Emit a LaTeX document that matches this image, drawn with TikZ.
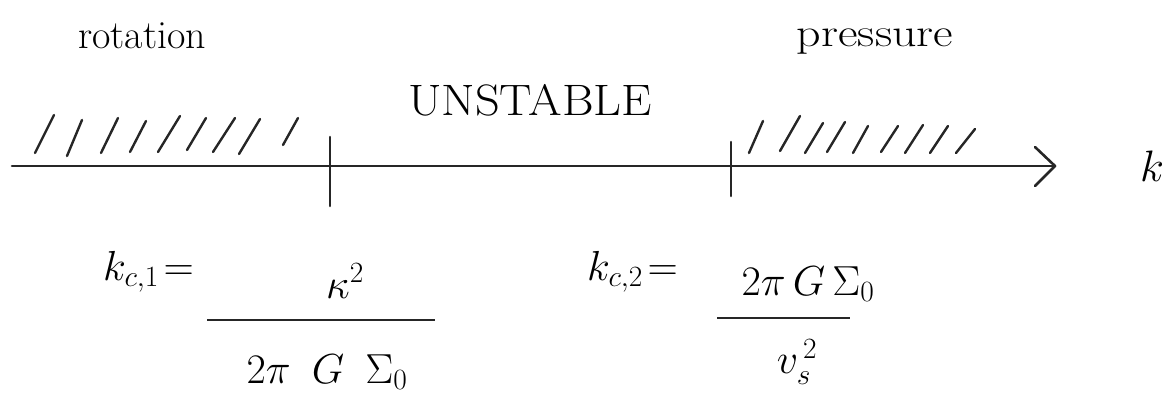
\RequirePackage{fix-cm}
\documentclass[tikz,border=0pt]{standalone}
\usepackage{amsmath}
\begin{document}
\begin{tikzpicture}[x=1pt,y=-1pt,
  ink/.style={line width=2.6pt,line cap=round,line join=round,black!85},
  hatch/.style={line width=2.4pt,line cap=round,black!85},
  lbl/.style={inner sep=0pt,font=\fontsize{40}{44}\selectfont},
  mth/.style={inner sep=0pt,font=\fontsize{42}{46}\selectfont}]
\useasboundingbox (0,0) rectangle (1164,397);
% axis
\coordinate (a0) at (12,166);
\coordinate (a1) at (1055,166);
\draw[ink] (a0) -- (a1);
\draw[ink] (1035,147) -- (a1) -- (1035,186);
% ticks
\coordinate (t1a) at (330,137); \coordinate (t1b) at (330,206);
\coordinate (t2a) at (731,142); \coordinate (t2b) at (731,196);
\draw[ink] (t1a) -- (t1b);
\draw[ink] (t2a) -- (t2b);
% left hatches
\foreach \xa/\ya/\xb/\yb in {35/153/54/115, 67/156/82/120, 101/153/118/118, 130/152/146/121, 158/152/180/116, 187/150/206/118, 213/152/235/118, 239/154/260/119, 283/145/298/118}
  \draw[hatch] (\xa,\ya) -- (\xb,\yb);
% right hatches
\foreach \xa/\ya/\xb/\yb in {749/153/763/121, 780/151/800/116, 805/153/823/123, 827/152/845/122, 853/153/868/126, 881/152/898/126, 905/153/923/125, 930/153/948/126, 956/153/975/129}
  \draw[hatch] (\xa,\ya) -- (\xb,\yb);
% labels
\node[lbl] (rot) at (142,36) {rotation};
\node[lbl,xscale=1.2] (pre) at (875,42) {pressure};
\node[inner sep=0pt,font=\fontsize{44}{48}\selectfont,xscale=1.1] (uns) at (530,100) {UNSTABLE};
\node[inner sep=0pt,font=\fontsize{44}{48}\selectfont] (k) at (1152,166) {$k$};
% formula 1
\node[mth,anchor=east] (k1) at (194,272) {$k_{c,1}\!=$};
\coordinate (b1a) at (207,320); \coordinate (b1b) at (435,320);
\draw[line width=2.6pt,black!85] (b1a) -- (b1b);
\node[mth] (n1) at (345,281) {$\kappa^{2}$};
\node[mth] (d1) at (327,372) {$2\pi\enspace G\enspace\Sigma_{0}$};
% formula 2
\node[mth,anchor=east] (k2) at (678,272) {$k_{c,2}\!=$};
\coordinate (b2a) at (717,318); \coordinate (b2b) at (850,318);
\draw[line width=2.6pt,black!85] (b2a) -- (b2b);
\node[mth] (n2) at (808,284) {$2\pi\,G\,\Sigma_{0}$};
\node[mth] (d2) at (797,362) {$v_{s}^{\,2}$};
\end{tikzpicture}
\end{document}
